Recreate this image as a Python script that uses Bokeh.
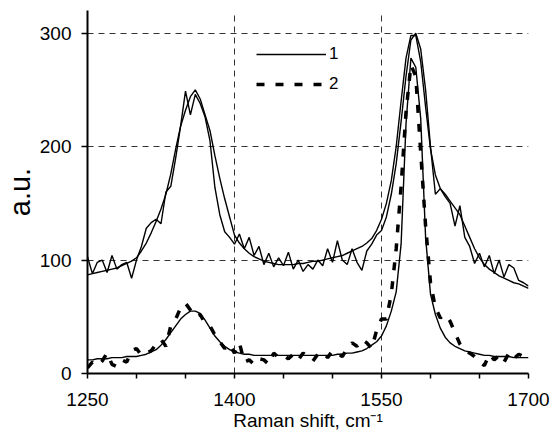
from bokeh.plotting import figure
from bokeh.models import (Range1d, FixedTicker, Legend, LegendItem, ColumnDataSource)
from bokeh.embed import file_html
from bokeh.resources import INLINE

# Raman shift sampling grid (cm-1)
raman_shift = list(range(1250, 1705, 5))

# Upper spectrum: measured (noisy) and fitted (smooth)
upper_measured = [103, 88, 98, 100, 89, 104, 92, 96, 98, 84,
                  100, 112, 128, 133, 136, 132, 160, 165, 190, 218,
                  249, 228, 246, 238, 226, 205, 164, 140, 125, 120,
                  114, 123, 110, 120, 104, 112, 96, 106, 94, 102,
                  95, 107, 92, 100, 90, 96, 92, 100, 95, 110,
                  98, 117, 100, 96, 110, 98, 91, 108, 114, 122,
                  126, 138, 158, 185, 222, 262, 294, 300, 286, 250,
                  200, 158, 163, 156, 150, 130, 148, 120, 112, 97,
                  106, 94, 104, 88, 100, 85, 96, 93, 82, 80, 77]
upper_fit = [87, 88, 89, 90, 91, 92, 93, 95, 97, 99,
             102, 108, 115, 124, 134, 145, 158, 176, 198, 218,
             232, 244, 250, 242, 228, 214, 192, 172, 154, 138,
             122, 115, 110, 106, 103, 101, 99, 98, 97, 96,
             96, 96, 96, 97, 97, 98, 99, 99, 100, 101,
             102, 103, 104, 106, 108, 110, 112, 115, 119, 126,
             136, 150, 170, 200, 240, 278, 298, 298, 275, 235,
             198, 175, 163, 158, 152, 146, 140, 130, 120, 110,
             102, 96, 92, 89, 86, 84, 82, 80, 79, 77, 75]

# Lower spectrum: measured (noisy, dashed) and fitted (smooth)
lower_measured = [5, 10, 7, 11, 18, 8, 6, 12, 10, 20,
                  22, 16, 18, 20, 26, 30, 24, 42, 48, 58,
                  62, 56, 50, 52, 44, 42, 34, 28, 22, 26,
                  18, 27, 10, 12, 8, 13, 12, 8, 18, 14,
                  16, 13, 17, 12, 18, 15, 11, 17, 19, 14,
                  20, 18, 15, 22, 27, 24, 30, 27, 22, 38,
                  48, 48, 70, 110, 165, 230, 272, 262, 195, 130,
                  80, 58, 49, 52, 46, 36, 26, 20, 18, 15,
                  10, 7, 17, 12, 16, 10, 18, 13, 17, 15, 18]
lower_fit = [12, 12, 13, 13, 13, 14, 14, 14, 15, 15,
             15, 16, 17, 19, 21, 25, 30, 36, 42, 48,
             52, 55, 55, 53, 47, 40, 33, 28, 24, 21,
             19, 18, 17, 17, 16, 16, 16, 16, 16, 16,
             16, 16, 16, 16, 16, 16, 16, 16, 16, 16,
             16, 17, 17, 18, 18, 19, 20, 22, 25, 28,
             33, 42, 55, 72, 114, 220, 278, 270, 225, 120,
             70, 52, 40, 32, 27, 24, 22, 20, 19, 18,
             17, 16, 16, 15, 15, 15, 15, 14, 14, 14, 14]

x_ticks = [1250, 1400, 1550, 1700]
x_minor_ticks = [1300, 1350, 1450, 1500, 1600, 1650]
y_ticks = [0, 100, 200, 300]

FONT = "Liberation Sans"

p = figure(width=559, height=444, output_backend="svg", toolbar_location=None,
           x_range=Range1d(1250, 1700), y_range=Range1d(0, 320),
           min_border_left=86, min_border_right=31, min_border_top=10, min_border_bottom=71)
p.outline_line_color = None
p.background_fill_color = "white"

src = ColumnDataSource(dict(x=raman_shift, um=upper_measured, uf=upper_fit,
                            lm=lower_measured, lf=lower_fit))

r_uf = p.line("x", "uf", source=src, line_color="black", line_width=1.4)
r_um = p.line("x", "um", source=src, line_color="black", line_width=1.4)
r_lf = p.line("x", "lf", source=src, line_color="black", line_width=1.4)
r_lm = p.line("x", "lm", source=src, line_color="black", line_width=3.5, line_dash="8 11")

# axes
p.xaxis.ticker = FixedTicker(ticks=x_ticks, minor_ticks=x_minor_ticks)
p.yaxis.ticker = FixedTicker(ticks=y_ticks)
for ax in (p.xaxis[0], p.yaxis[0]):
    ax.axis_line_color = "black"
    ax.axis_line_width = 2
    ax.major_tick_line_color = "black"
    ax.major_tick_line_width = 1.5
    ax.major_tick_in = 0
    ax.major_label_text_font = FONT
    ax.major_label_text_font_size = "19px"
    ax.major_label_text_color = "black"
    ax.axis_label_text_font = FONT
    ax.axis_label_text_font_style = "normal"
    ax.axis_label_text_color = "black"
p.yaxis.major_tick_out = 6
p.xaxis.major_tick_out = 5
p.xaxis.minor_tick_line_color = "black"
p.xaxis.minor_tick_line_width = 1.5
p.xaxis.minor_tick_in = 0
p.xaxis.minor_tick_out = 5
p.yaxis.minor_tick_line_color = None
p.xaxis.major_label_standoff = 14
p.yaxis.major_label_standoff = 10
p.xaxis.axis_label = "Raman shift, cm\u207b\u00b9"
p.xaxis.axis_label_text_font_size = "19px"
p.xaxis.axis_label_standoff = 1
p.yaxis.axis_label = "a.u."
p.yaxis.axis_label_text_font_size = "29px"
p.yaxis.axis_label_standoff = 1

# grid
for g in (p.xgrid[0], p.ygrid[0]):
    g.grid_line_color = "#333333"
    g.grid_line_width = 1
    g.grid_line_dash = "6 5"

legend = Legend(items=[LegendItem(label="1", renderers=[r_um]),
                       LegendItem(label="2", renderers=[r_lm])],
                location=(169, 279), orientation="vertical",
                border_line_color=None, background_fill_alpha=0,
                padding=0, margin=0, glyph_width=70, glyph_height=20,
                spacing=10, label_standoff=3,
                label_text_font=FONT, label_text_font_size="17px",
                label_text_color="black")
p.add_layout(legend, "center")

open("out.html", "w").write(file_html(p, INLINE))
